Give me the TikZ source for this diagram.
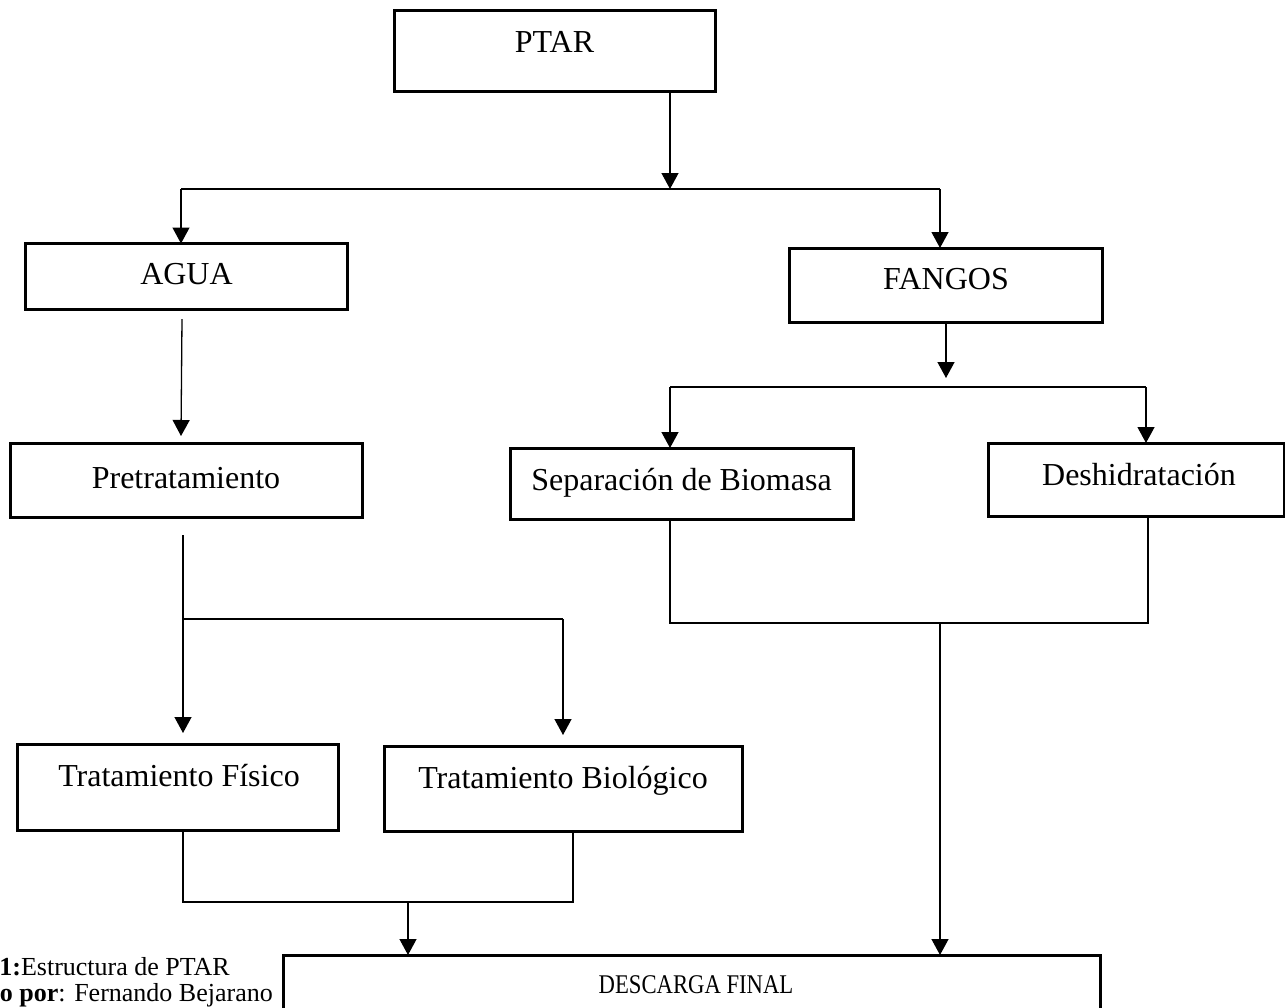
\documentclass[tikz,border=0pt]{standalone}
\usepackage{fontspec}
\setmainfont{Liberation Serif}
\usepackage{graphicx}
\usetikzlibrary{arrows.meta}
\tikzset{
  box/.style={draw=black, line width=3pt, rectangle, inner sep=0pt, outer sep=0pt},
  lbl/.style={font=\fontsize{32}{38}\selectfont, anchor=base, inner sep=0pt},
  captext/.style={font=\fontsize{26}{30}\selectfont, anchor=base east, inner sep=0pt},
  wire/.style={line width=1.3pt, draw=black},
  arr/.style={wire, -{Triangle[width=17pt,length=16pt]}},
}
\begin{document}
\begin{tikzpicture}[x=1pt,y=-1pt]
\useasboundingbox (0,0) rectangle (1285,1007);

% boxes
\node[box, minimum width=321pt, minimum height=81pt] (ptar)     at (554.5,50.5) {};
\node[box, minimum width=322pt, minimum height=66pt] (agua)     at (186.5,276.5) {};
\node[box, minimum width=313pt, minimum height=74pt] (fangos)   at (945.5,285) {};
\node[box, minimum width=352pt, minimum height=74pt] (pretrat)  at (186,480) {};
\node[box, minimum width=343pt, minimum height=71pt] (sepbio)   at (681.5,483.5) {};
\node[box, minimum width=296pt, minimum height=73pt] (deshid)   at (1136,479.5) {};
\node[box, minimum width=321pt, minimum height=86pt] (fisico)   at (177.5,787) {};
\node[box, minimum width=358pt, minimum height=85pt] (biolog)   at (563,788.5) {};
\node[box, minimum width=817pt, minimum height=75pt] (descarga) at (691.5,992.5) {};

% labels
\node[lbl] (ptar-t)    at (554.5,52)  {PTAR};
\node[lbl] (agua-t)    at (186.5,284) {AGUA};
\node[lbl] (fangos-t)  at (946,289)   {FANGOS};
\node[lbl] (pretrat-t) at (186,488)   {Pretratamiento};
\node[lbl] (sepbio-t)  at (681.5,490) {Separación de Biomasa};
\node[lbl] (deshid-t)  at (1139,485)  {Deshidratación};
\node[lbl] (fisico-t)  at (179,786)   {Tratamiento Físico};
\node[lbl] (biolog-t)  at (563,788)   {Tratamiento Biológico};
\node[lbl, font=\fontsize{27}{32}\selectfont] (descarga-t) at (696,993)
  {\scalebox{0.84}[1]{DESCARGA FINAL}};

% caption
\node[captext] (cap1) at (230,975)  {\textbf{1:}Estructura de PTAR};
\node[captext] (cap2) at (273,1001) {\textbf{o por}: Fernando Bejarano};

% PTAR split
\coordinate (s1)  at (670,189);
\coordinate (s1l) at (181,189);
\coordinate (s1r) at (940,189);
\draw[arr] (ptar.south -| s1) -- (s1);
\draw[wire] (s1l) -- (s1r);
\draw[arr] (s1l) -- (s1l |- agua.north);
\draw[arr] (s1r) -- (s1r |- fangos.north);

% AGUA branch
\coordinate (a1) at (182,319);
\coordinate (a2) at (181,436);
\draw[arr] (a1) -- (a2);

\coordinate (p1) at (183,535);
\coordinate (p2) at (183,619);
\coordinate (p3) at (563,619);
\coordinate (p4) at (183,733);
\coordinate (p5) at (563,735);
\draw[arr] (p1) -- (p4);
\draw[wire] (p2) -- (p3);
\draw[arr] (p3) -- (p5);

\coordinate (q1) at (183,902);
\coordinate (q2) at (573,902);
\coordinate (q3) at (408,902);
\draw[wire] (q1 |- fisico.south) -- (q1) -- (q2) -- (q2 |- biolog.south);
\draw[arr] (q3) -- (q3 |- descarga.north);

% FANGOS branch
\coordinate (f1) at (946,378);
\coordinate (f2) at (670,387);
\coordinate (f3) at (1146,387);
\draw[arr] (fangos.south -| f1) -- (f1);
\draw[wire] (f2) -- (f3);
\draw[arr] (f2) -- (f2 |- sepbio.north);
\draw[arr] (f3) -- (f3 |- deshid.north);

\coordinate (r1) at (670,623);
\coordinate (r2) at (1148,623);
\coordinate (r3) at (940,623);
\draw[wire] (r1 |- sepbio.south) -- (r1) -- (r2) -- (r2 |- deshid.south);
\draw[arr] (r3) -- (r3 |- descarga.north);
\end{tikzpicture}
\end{document}
